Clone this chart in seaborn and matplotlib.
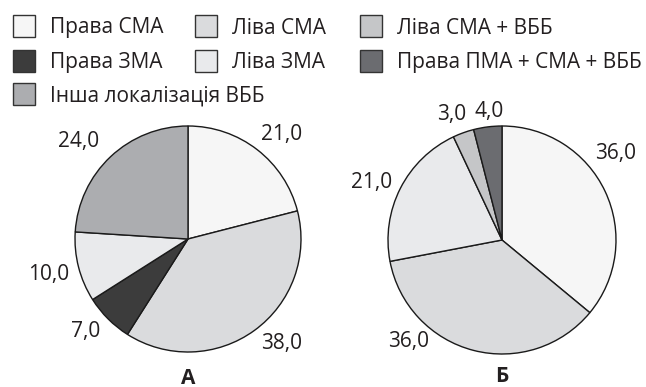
import matplotlib
matplotlib.use("Agg")
import matplotlib.pyplot as plt
import seaborn as sns
import numpy as np
from matplotlib.patches import Rectangle

sns.set_theme(style="white")
plt.rcParams['font.family'] = ['Open Sans', 'DejaVu Sans']

# Data
cats_a = ["Права СМА", "Ліва СМА", "Права ЗМА", "Ліва ЗМА", "Інша локалізація ВББ"]
vals_a = [21.0, 38.0, 7.0, 10.0, 24.0]
cats_b = ["Права СМА", "Ліва СМА", "Ліва ЗМА", "Ліва СМА + ВББ", "Права ПМА + СМА + ВББ"]
vals_b = [36.0, 36.0, 21.0, 3.0, 4.0]
panel_titles = ["А", "Б"]

colors = {
    "Права СМА": "#f6f6f6",
    "Ліва СМА": "#dadbdd",
    "Права ЗМА": "#3c3c3c",
    "Ліва ЗМА": "#e9eaec",
    "Інша локалізація ВББ": "#acadb0",
    "Ліва СМА + ВББ": "#c5c6c8",
    "Права ПМА + СМА + ВББ": "#6b6c70",
}
legend_rows = [
    ["Права СМА", "Ліва СМА", "Ліва СМА + ВББ"],
    ["Права ЗМА", "Ліва ЗМА", "Права ПМА + СМА + ВББ"],
    ["Інша локалізація ВББ"],
]

# label placement tweaks (angle shift in degrees, radial distance)
shift_a = [-4, 6, -3, 0, 5]
dist_a = [1.24, 1.24, 1.22, 1.27, 1.3]
shift_b = [12, -28, 3, 2, -1.5]
dist_b = [1.25, 1.21, 1.25, 1.19, 1.13]

TXT = "#231f20"
W, H = 646, 387
fig = plt.figure(figsize=(W / 100, H / 100), dpi=100)

def add_pie(cx, cy, r, cats, vals, title, ty, shifts, dists):
    L = 1.5
    size = 2 * L * r
    ax = fig.add_axes([(cx - size / 2) / W, (H - cy - size / 2) / H, size / W, size / H])
    wedges, _, autotexts = ax.pie(
        vals, colors=[colors[c] for c in cats], startangle=90, counterclock=False,
        wedgeprops=dict(edgecolor="#1a1a1a", linewidth=1.0),
        autopct=lambda p: f"{p:.1f}".replace(".", ","), pctdistance=1.25,
        textprops=dict(fontsize=15, color=TXT))
    for w, t, s, d in zip(wedges, autotexts, shifts, dists):
        ang = np.deg2rad((w.theta1 + w.theta2) / 2 + s)
        t.set_position((d * np.cos(ang), d * np.sin(ang)))
    ax.set_xlim(-L, L)
    ax.set_ylim(-L, L)
    ax.set_aspect("equal")
    ax.axis("off")
    fig.text(cx / W, 1 - ty / H, title, ha="center", va="center",
             fontsize=15, fontweight="bold", color=TXT)

add_pie(188, 239, 113, cats_a, vals_a, panel_titles[0], 378, shift_a, dist_a)
add_pie(502, 240, 114, cats_b, vals_b, panel_titles[1], 376, shift_b, dist_b)

# legend (figure pixel layout)
col_x = [13, 195, 360]
row_y = [26, 60.5, 94]
sq = 22
for ri, row in enumerate(legend_rows):
    for ci, lab in enumerate(row):
        x0, yc = col_x[ci], row_y[ri]
        fig.add_artist(Rectangle((x0 / W, 1 - (yc + sq / 2) / H), sq / W, sq / H,
                                 transform=fig.transFigure, facecolor=colors[lab],
                                 edgecolor="#333333", linewidth=1.0))
        fig.text((x0 + sq + 15) / W, 1 - (yc + 7.5) / H, lab, ha="left", va="baseline",
                 fontsize=15, color=TXT)

fig.savefig("out.png", dpi=100, facecolor="white")
